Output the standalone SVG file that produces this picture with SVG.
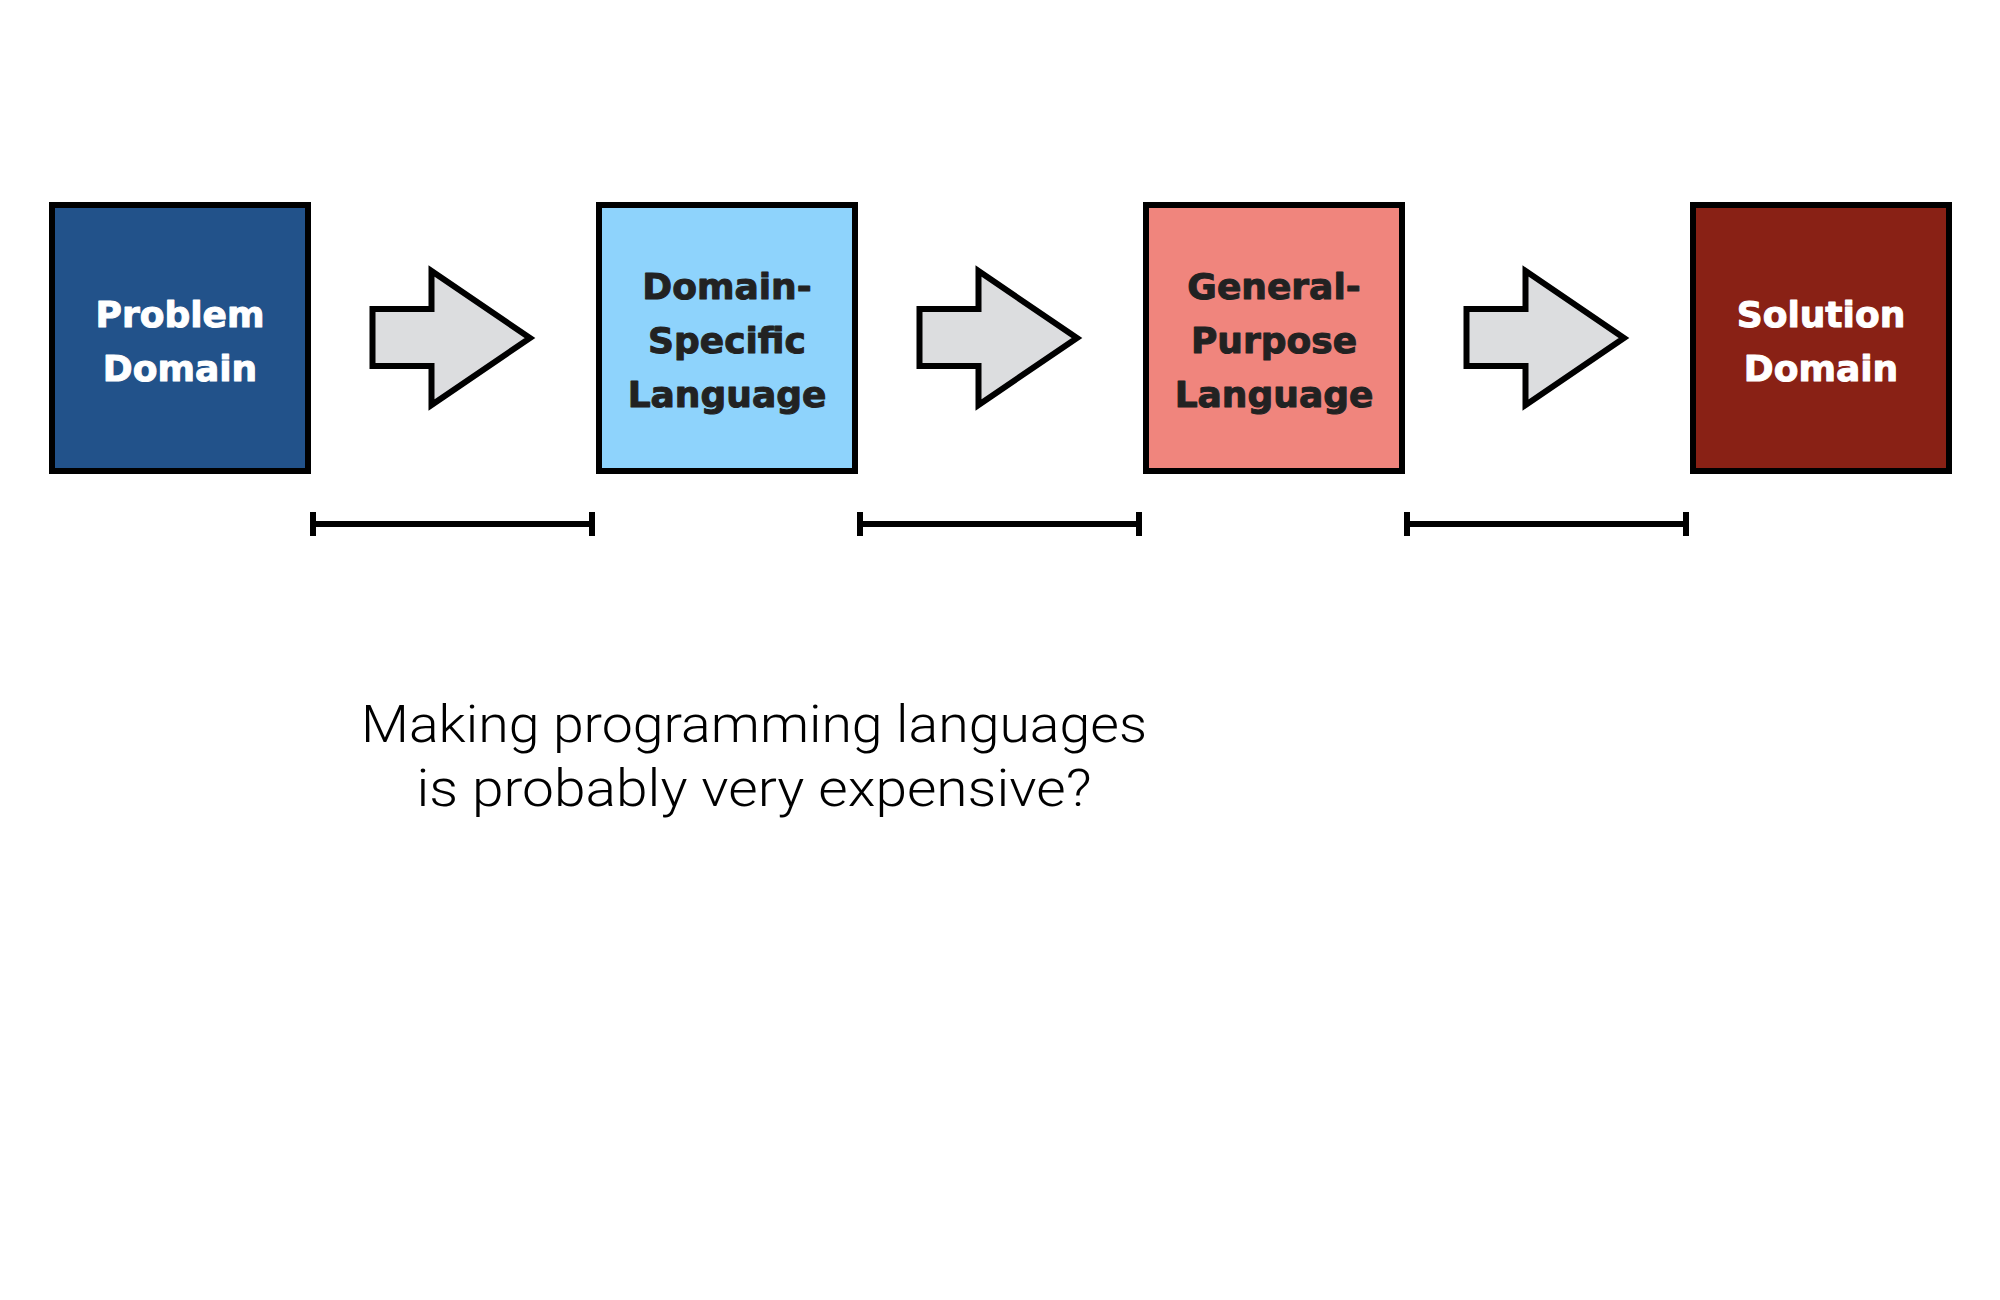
<svg xmlns="http://www.w3.org/2000/svg" width="2000" height="1300" viewBox="0 0 2000 1300">
<defs>
<style>
.box{stroke:#000;stroke-width:6}
.lbl{font-family:"DejaVu Sans",sans-serif;font-weight:bold;font-size:36px;text-anchor:middle;stroke-width:1;stroke-linejoin:round}
.lw{fill:#fff;stroke:#fff}
.ld{fill:#222;stroke:#222}
.arrow{fill:#DCDDDF;stroke:#000;stroke-width:6;stroke-miterlimit:10}
.br{stroke:#000;stroke-width:6;fill:none}
.note{font-family:Roboto,"Liberation Sans",sans-serif;font-weight:300;font-size:52px;text-anchor:middle;fill:#000}
</style>
<polygon id="arr" class="arrow" points="0,0 59,0 59,-38 157.5,29 59,96 59,57 0,57"/>
<path id="brk" class="br" d="M0,-12V12M0,0H279M279,-12V12"/>
</defs>
<rect width="2000" height="1300" fill="#fff"/>
<g id="problem-domain">
<rect class="box" x="52" y="205" width="256" height="266" fill="#22528A"/>
<text class="lbl lw" x="180" y="327">Problem</text>
<text class="lbl lw" x="180" y="381">Domain</text>
</g>
<g id="dsl">
<rect class="box" x="599" y="205" width="256" height="266" fill="#8ED3FC"/>
<text class="lbl ld" x="727" y="299">Domain-</text>
<text class="lbl ld" x="727" y="353">Specific</text>
<text class="lbl ld" x="727" y="407">Language</text>
</g>
<g id="gpl">
<rect class="box" x="1146" y="205" width="256" height="266" fill="#F0857D"/>
<text class="lbl ld" x="1274" y="299">General-</text>
<text class="lbl ld" x="1274" y="353">Purpose</text>
<text class="lbl ld" x="1274" y="407">Language</text>
</g>
<g id="solution-domain">
<rect class="box" x="1693" y="205" width="256" height="266" fill="#892115"/>
<text class="lbl lw" x="1821" y="327">Solution</text>
<text class="lbl lw" x="1821" y="381">Domain</text>
</g>
<g id="connectors">
<use href="#arr" x="372.5" y="309"/>
<use href="#arr" x="919.5" y="309"/>
<use href="#arr" x="1466.5" y="309"/>
<use href="#brk" x="313" y="524"/>
<use href="#brk" x="860" y="524"/>
<use href="#brk" x="1407" y="524"/>
</g>
<g id="note">
<text class="note" x="754" y="742" textLength="786" lengthAdjust="spacingAndGlyphs">Making programming languages</text>
<text class="note" x="754" y="806" textLength="675" lengthAdjust="spacingAndGlyphs">is probably very expensive?</text>
</g>
</svg>
